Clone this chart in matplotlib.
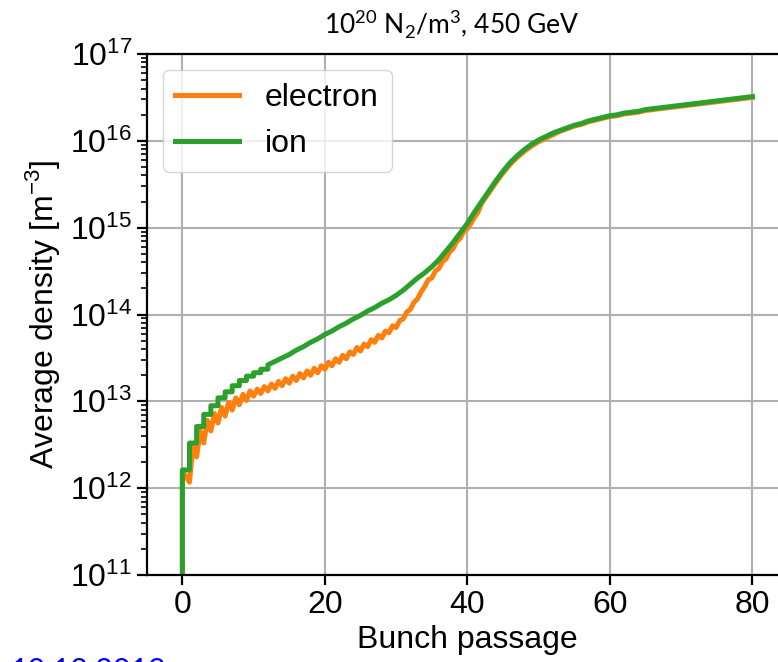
import numpy as np
import matplotlib.pyplot as plt

# log10 of average density [m^-3]
# ion: staircase for the first bunches (value held until the next passage)
ion_step = [12.21, 12.52, 12.71, 12.85, 12.95, 13.04, 13.11, 13.18, 13.24, 13.29,
            13.33, 13.37]
# ion: later bunches 12..80
ion_late = [13.42, 13.46, 13.50, 13.54,
            13.59, 13.63, 13.68, 13.72, 13.77, 13.81, 13.86, 13.90, 13.95, 13.99,
            14.04, 14.08, 14.13, 14.17, 14.22, 14.28, 14.35, 14.42, 14.48, 14.55,
            14.63, 14.73, 14.83, 14.94, 15.05, 15.18, 15.30, 15.42, 15.54, 15.65,
            15.75, 15.83, 15.90, 15.96, 16.01, 16.05, 16.09, 16.12, 16.15, 16.18,
            16.20, 16.23, 16.25, 16.27, 16.29, 16.30, 16.32, 16.33, 16.34, 16.36,
            16.37, 16.38, 16.39, 16.40, 16.41, 16.42, 16.43, 16.44, 16.45, 16.46,
            16.47, 16.48, 16.49, 16.50, 16.51]

# electron: trough at each passage (bunch 1..41) and peak half a bunch later
e_trough = [12.07, 12.36, 12.52, 12.66, 12.75, 12.83, 12.90, 12.96, 13.01, 13.06,
            13.09, 13.12, 13.15, 13.18, 13.21, 13.24, 13.27, 13.30, 13.33, 13.37,
            13.41, 13.45, 13.49, 13.54, 13.58, 13.63, 13.68, 13.73, 13.79, 13.85,
            13.95, 14.06, 14.18, 14.32, 14.42, 14.53, 14.64, 14.76, 14.88, 14.99,
            15.12]
e_peak = [12.50, 12.66, 12.78, 12.86, 12.93, 12.99, 13.04, 13.08, 13.12, 13.14,
          13.17, 13.20, 13.23, 13.26, 13.29, 13.32, 13.35, 13.38, 13.41, 13.45,
          13.49, 13.53, 13.57, 13.62, 13.66, 13.71, 13.76, 13.81, 13.87, 13.93,
          14.03, 14.14, 14.26, 14.40, 14.50, 14.61, 14.72, 14.84, 14.96, 15.05,
          15.18]
# electron: bunches 42..80
e_late = [15.28, 15.40, 15.52, 15.63, 15.73, 15.81, 15.88, 15.94, 15.99, 16.03,
          16.07, 16.11, 16.14, 16.17, 16.19, 16.22, 16.24, 16.26, 16.28, 16.29,
          16.31, 16.32, 16.33, 16.35, 16.36, 16.37, 16.38, 16.39, 16.40, 16.41,
          16.42, 16.43, 16.44, 16.45, 16.46, 16.47, 16.48, 16.49, 16.50]

# build ion curve
ix, iy = [0], [10.0]
for k, v in enumerate(ion_step):
    ix += [k, k + 1]
    iy += [v, v]
ix += list(range(len(ion_step), len(ion_step) + len(ion_late)))
iy += ion_late

# build electron curve
ex, ey = [0, 0], [10.0, 12.2]
for k, (t, p) in enumerate(zip(e_trough, e_peak), start=1):
    ex += [k, k + 0.5]
    ey += [t, p]
start = len(e_trough) + 1
ex += list(range(start, start + len(e_late)))
ey += e_late

plt.rcParams['font.family'] = ['Liberation Sans', 'DejaVu Sans']

fig = plt.figure(figsize=(7.78, 6.62), dpi=100)
ax = fig.add_axes([0.1886, 0.1314, 0.8243, 0.787])

ax.plot(ex, 10 ** np.array(ey), color='#ff7f0e', lw=3.6, label='electron')
ax.plot(ix, 10 ** np.array(iy), color='#2ca02c', lw=3.6, label='ion')

ax.set_yscale('log')
ax.set_xlim(-5, 85)
ax.set_ylim(1e11, 1e17)
ax.set_xticks([0, 20, 40, 60, 80])
ax.grid(True, which='major', color='#b0b0b0', lw=1.5)
ax.set_axisbelow(True)

for s in ax.spines.values():
    s.set_linewidth(1.6)
ax.tick_params(axis='both', which='major', labelsize=23, length=7, width=1.6)
ax.tick_params(axis='y', which='minor', length=4, width=1.2)

ax.set_xlabel('Bunch passage', fontsize=23, labelpad=4)
ax.set_ylabel(r'Average density [m$^{\mathdefault{-3}}$]', fontsize=23, labelpad=6)

ax.legend(loc='upper left', fontsize=23, framealpha=0.8)

fig.text(0.581, 0.950, r'10$^{\mathdefault{20}}$ N$_{\mathdefault{2}}$/m$^{\mathdefault{3}}$, 450 GeV',
         family=['Lato', 'DejaVu Sans'], fontsize=19, ha='center', va='baseline')
fig.text(0.013, 0.007, '10.12.2019', family=['Lato', 'DejaVu Sans'], fontsize=22,
         color='#0000ff', ha='left', va='top')

fig.savefig('out.png', dpi=100)
